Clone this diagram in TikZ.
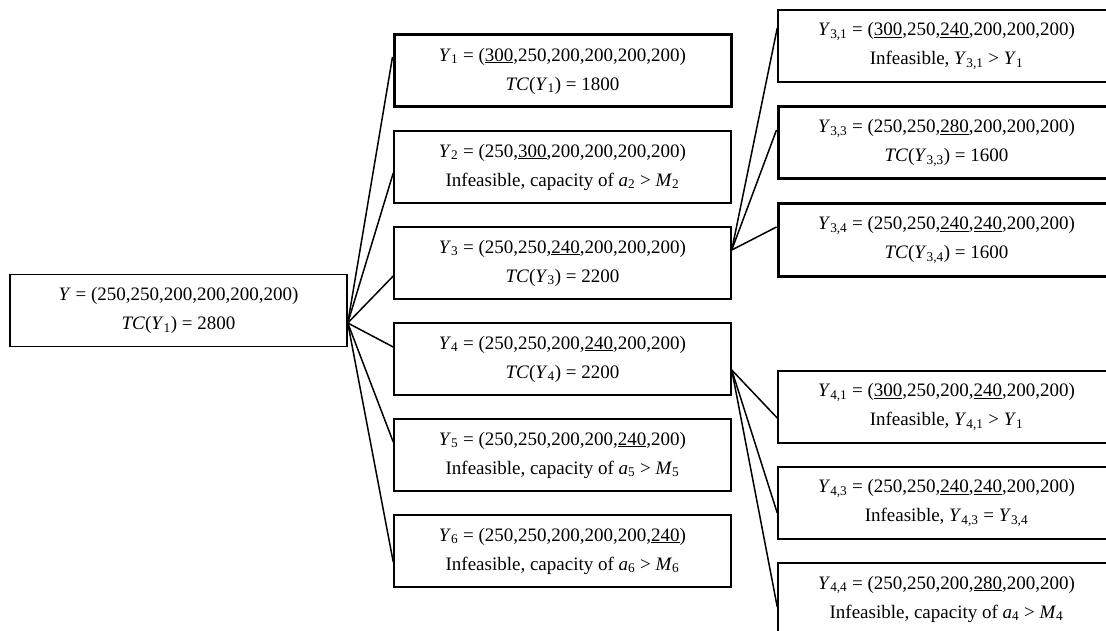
\documentclass[tikz,border=0pt]{standalone}
\usepackage{fontspec}
\setmainfont{Liberation Serif}

\newcommand{\Yv}[1]{\textit{Y}\textsubscript{#1}}

\tikzset{
	box/.style={draw, line width=1.5pt, minimum width=337pt, minimum height=72pt, inner sep=0pt, align=center, font=\fontsize{19}{29}\selectfont},
	boldbox/.style={box, line width=3pt},
	link/.style={line width=1.5pt}
}

\begin{document}
\begin{tikzpicture}[x=1pt, y=-1pt]
		\useasboundingbox (0, 0) rectangle (1106, 631);
		\node[box] (root) at (178.5, 310.5) {\textit{Y} = (250,250,200,200,200,200)\\\textit{TC}(\Yv{1}) = 2800};
		\node[boldbox] (Y1) at (562.5, 71) {\Yv{1} = (\underline{300},250,200,200,200,200)\\\textit{TC}(\Yv{1}) = 1800};
		\node[box] (Y2) at (562.5, 167) {\Yv{2} = (250,\underline{300},200,200,200,200)\\Infeasible, capacity of \textit{a}\textsubscript{2} > \textit{M}\textsubscript{2}};
		\node[box] (Y3) at (562.5, 263) {\Yv{3} = (250,250,\underline{240},200,200,200)\\\textit{TC}(\Yv{3}) = 2200};
		\node[box] (Y4) at (562.5, 359) {\Yv{4} = (250,250,200,\underline{240},200,200)\\\textit{TC}(\Yv{4}) = 2200};
		\node[box] (Y5) at (562.5, 455) {\Yv{5} = (250,250,200,200,\underline{240},200)\\Infeasible, capacity of \textit{a}\textsubscript{5} > \textit{M}\textsubscript{5}};
		\node[box] (Y6) at (562.5, 551) {\Yv{6} = (250,250,200,200,200,\underline{240})\\Infeasible, capacity of \textit{a}\textsubscript{6} > \textit{M}\textsubscript{6}};
		\node[box] (Y31) at (946.5, 46) {\Yv{3,1} = (\underline{300},250,\underline{240},200,200,200)\\Infeasible, \Yv{3,1} > \Yv{1}};
		\node[boldbox] (Y33) at (946.5, 143) {\Yv{3,3} = (250,250,\underline{280},200,200,200)\\\textit{TC}(\Yv{3,3}) = 1600};
		\node[boldbox] (Y34) at (946.5, 240) {\Yv{3,4} = (250,250,\underline{240},\underline{240},200,200)\\\textit{TC}(\Yv{3,4}) = 1600};
		\node[box] (Y41) at (946.5, 407) {\Yv{4,1} = (\underline{300},250,200,\underline{240},200,200)\\Infeasible, \Yv{4,1} > \Yv{1}};
		\node[box] (Y43) at (946.5, 503) {\Yv{4,3} = (250,250,\underline{240},\underline{240},200,200)\\Infeasible, \Yv{4,3} = \Yv{3,4}};
		\node[box] (Y44) at (946.5, 599) {\Yv{4,4} = (250,250,200,\underline{280},200,200)\\Infeasible, capacity of \textit{a}\textsubscript{4} > \textit{M}\textsubscript{4}};
		\draw[link] ([yshift=-12.5pt]root.east) -- ([yshift=14pt]Y1.west);
		\draw[link] ([yshift=-12.5pt]root.east) -- ([yshift=-6pt]Y2.west);
		\draw[link] ([yshift=-12.5pt]root.east) -- ([yshift=-13pt]Y3.west);
		\draw[link] ([yshift=-12.5pt]root.east) -- ([yshift=12pt]Y4.west);
		\draw[link] ([yshift=-12.5pt]root.east) -- ([yshift=13pt]Y5.west);
		\draw[link] ([yshift=-12.5pt]root.east) -- ([yshift=-11pt]Y6.west);
		\draw[link] ([yshift=13pt]Y3.east) -- ([yshift=18pt]Y31.west);
		\draw[link] ([yshift=13pt]Y3.east) -- ([yshift=13pt]Y33.west);
		\draw[link] ([yshift=13pt]Y3.east) -- ([yshift=13pt]Y34.west);
		\draw[link] ([yshift=-11pt]Y4.east) -- ([yshift=-11pt]Y41.west);
		\draw[link] ([yshift=-11pt]Y4.east) -- ([yshift=-10pt]Y43.west);
		\draw[link] ([yshift=-11pt]Y4.east) -- ([yshift=-8pt]Y44.west);
	\end{tikzpicture}
\end{document}
